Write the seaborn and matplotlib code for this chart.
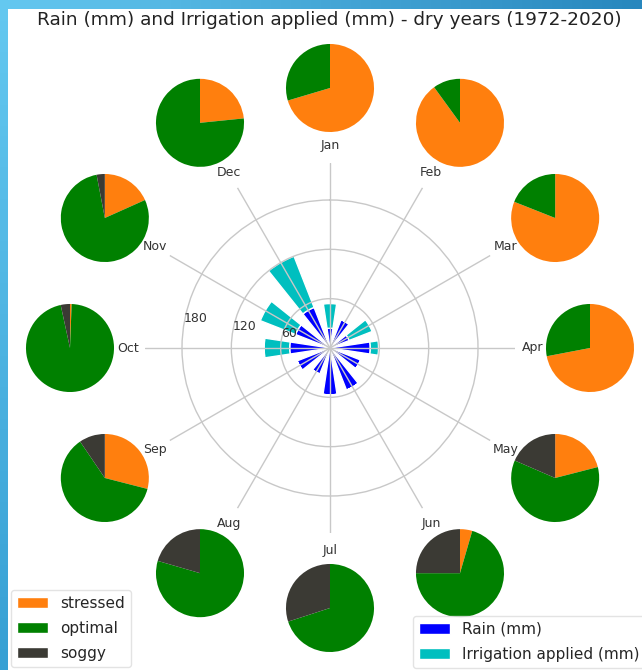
import numpy as np
import matplotlib
matplotlib.use("Agg")
import matplotlib.pyplot as plt
from matplotlib.patches import Patch, Rectangle
import seaborn as sns

# Monthly values, dry years 1972-2020
months = ["Jan", "Feb", "Mar", "Apr", "May", "Jun",
          "Jul", "Aug", "Sep", "Oct", "Nov", "Dec"]
rain_mm = [24, 37, 25, 49, 40, 55, 57, 34, 43, 49, 45, 53]
irrigation_mm = [30, 0, 30, 10, 0, 0, 0, 0, 0, 31, 46, 67]

# Share of days in each soil-moisture state
stressed = [0.704, 0.90, 0.81, 0.72, 0.21, 0.045, 0.0, 0.0, 0.29, 0.006, 0.183, 0.234]
optimal = [0.296, 0.10, 0.19, 0.28, 0.605, 0.705, 0.70, 0.795, 0.615, 0.96, 0.787, 0.766]
soggy = [0.0, 0.0, 0.0, 0.0, 0.185, 0.25, 0.30, 0.205, 0.095, 0.034, 0.03, 0.0]

state_labels = ["stressed", "optimal", "soggy"]
state_colors = ["#ff7f0e", "#008000", "#3b3a34"]
rain_color = "#0000ff"
irr_color = "#00bfbf"

sns.set_style("white")
plt.rcParams["font.family"] = ["DejaVu Sans"]

W, H = 642, 670
fig = plt.figure(figsize=(W / 100, H / 100), dpi=100)


def fx(px):
    return px / W


def fy(py):
    return 1 - py / H


# slide background frame
bg = fig.add_axes([0, 0, 1, 1], zorder=-10)
bg.set_axis_off()
gx, gy = np.meshgrid(np.linspace(0, 1, 64), np.linspace(0, 1, 64))
tl = np.array([100, 200, 240]) / 255
tr = np.array([40, 135, 190]) / 255
bl = np.array([55, 160, 212]) / 255
grad = (tl[None, None, :] * (1 - gx[..., None]) * (1 - gy[..., None])
        + tr[None, None, :] * gx[..., None] * (1 - gy[..., None])
        + bl[None, None, :] * (1 - gx[..., None]) * gy[..., None]
        + (tr * 0.5 + bl * 0.5)[None, None, :] * gx[..., None] * gy[..., None])
bg.imshow(grad, extent=(0, 1, 0, 1), aspect="auto", origin="upper")
bg.set_xlim(0, 1)
bg.set_ylim(0, 1)
bg.add_patch(Rectangle((fx(8), 0), 1, fy(9), facecolor="white", edgecolor="none"))

# central polar bar chart
cx, cy, rpx = 330, 348, 185
ax = fig.add_axes([fx(cx - rpx), fy(cy + rpx), 2 * rpx / W, 2 * rpx / H],
                  projection="polar")
ax.set_facecolor("none")
theta = np.deg2rad(np.arange(12) * 30)
ax.set_theta_zero_location("N")
ax.set_theta_direction(-1)
ax.bar(theta, rain_mm, width=0.3, color=rain_color, label="Rain (mm)", zorder=1)
ax.bar(theta, irrigation_mm, width=0.3, bottom=rain_mm, color=irr_color,
       label="Irrigation applied (mm)", zorder=1)
ax.set_axisbelow(False)
ax.set_ylim(0, 225)
ax.set_yticks([60, 120, 180])
ax.set_yticklabels(["60", "120", "180"], fontsize=9, color="#333333")
ax.set_rlabel_position(279)
ax.set_xticks(theta)
ax.set_xticklabels(months, fontsize=9, color="#333333")
ax.tick_params(axis="x", pad=2)
ax.grid(True, color="#c8c8c8", linewidth=1.0)
ax.spines["polar"].set_visible(False)

# one pie per month around the ring
ring, pr = 260, 46
for i in range(12):
    a = np.deg2rad(i * 30)
    px = cx + ring * np.sin(a)
    py = cy - ring * np.cos(a)
    pax = fig.add_axes([fx(px - pr), fy(py + pr), 2 * pr / W, 2 * pr / H])
    vals = [stressed[i], optimal[i], soggy[i]]
    pax.pie(vals, colors=state_colors, startangle=90, counterclock=False,
            radius=1.0, wedgeprops=dict(linewidth=0))
    pax.set_xlim(-1.045, 1.045)
    pax.set_ylim(-1.045, 1.045)
    pax.set_aspect("equal")
    pax.set_axis_off()

fig.suptitle("Rain (mm) and Irrigation applied (mm) - dry years (1972-2020)",
             x=fx(329), y=fy(20), va="center", fontsize=13.3, color="#222222")

state_handles = [Patch(facecolor=c, label=l) for c, l in zip(state_colors, state_labels)]
fig.legend(handles=state_handles, loc="lower left", bbox_to_anchor=(fx(11), fy(667)),
           borderaxespad=0, fontsize=11, labelspacing=0.66, frameon=True,
           edgecolor="#dddddd")
bar_handles, bar_labels = ax.get_legend_handles_labels()
fig.legend(bar_handles, bar_labels, loc="lower left", bbox_to_anchor=(fx(413), fy(668)),
           borderaxespad=0, fontsize=11, labelspacing=0.66, frameon=True,
           edgecolor="#dddddd")

fig.savefig("out.png", dpi=100)
